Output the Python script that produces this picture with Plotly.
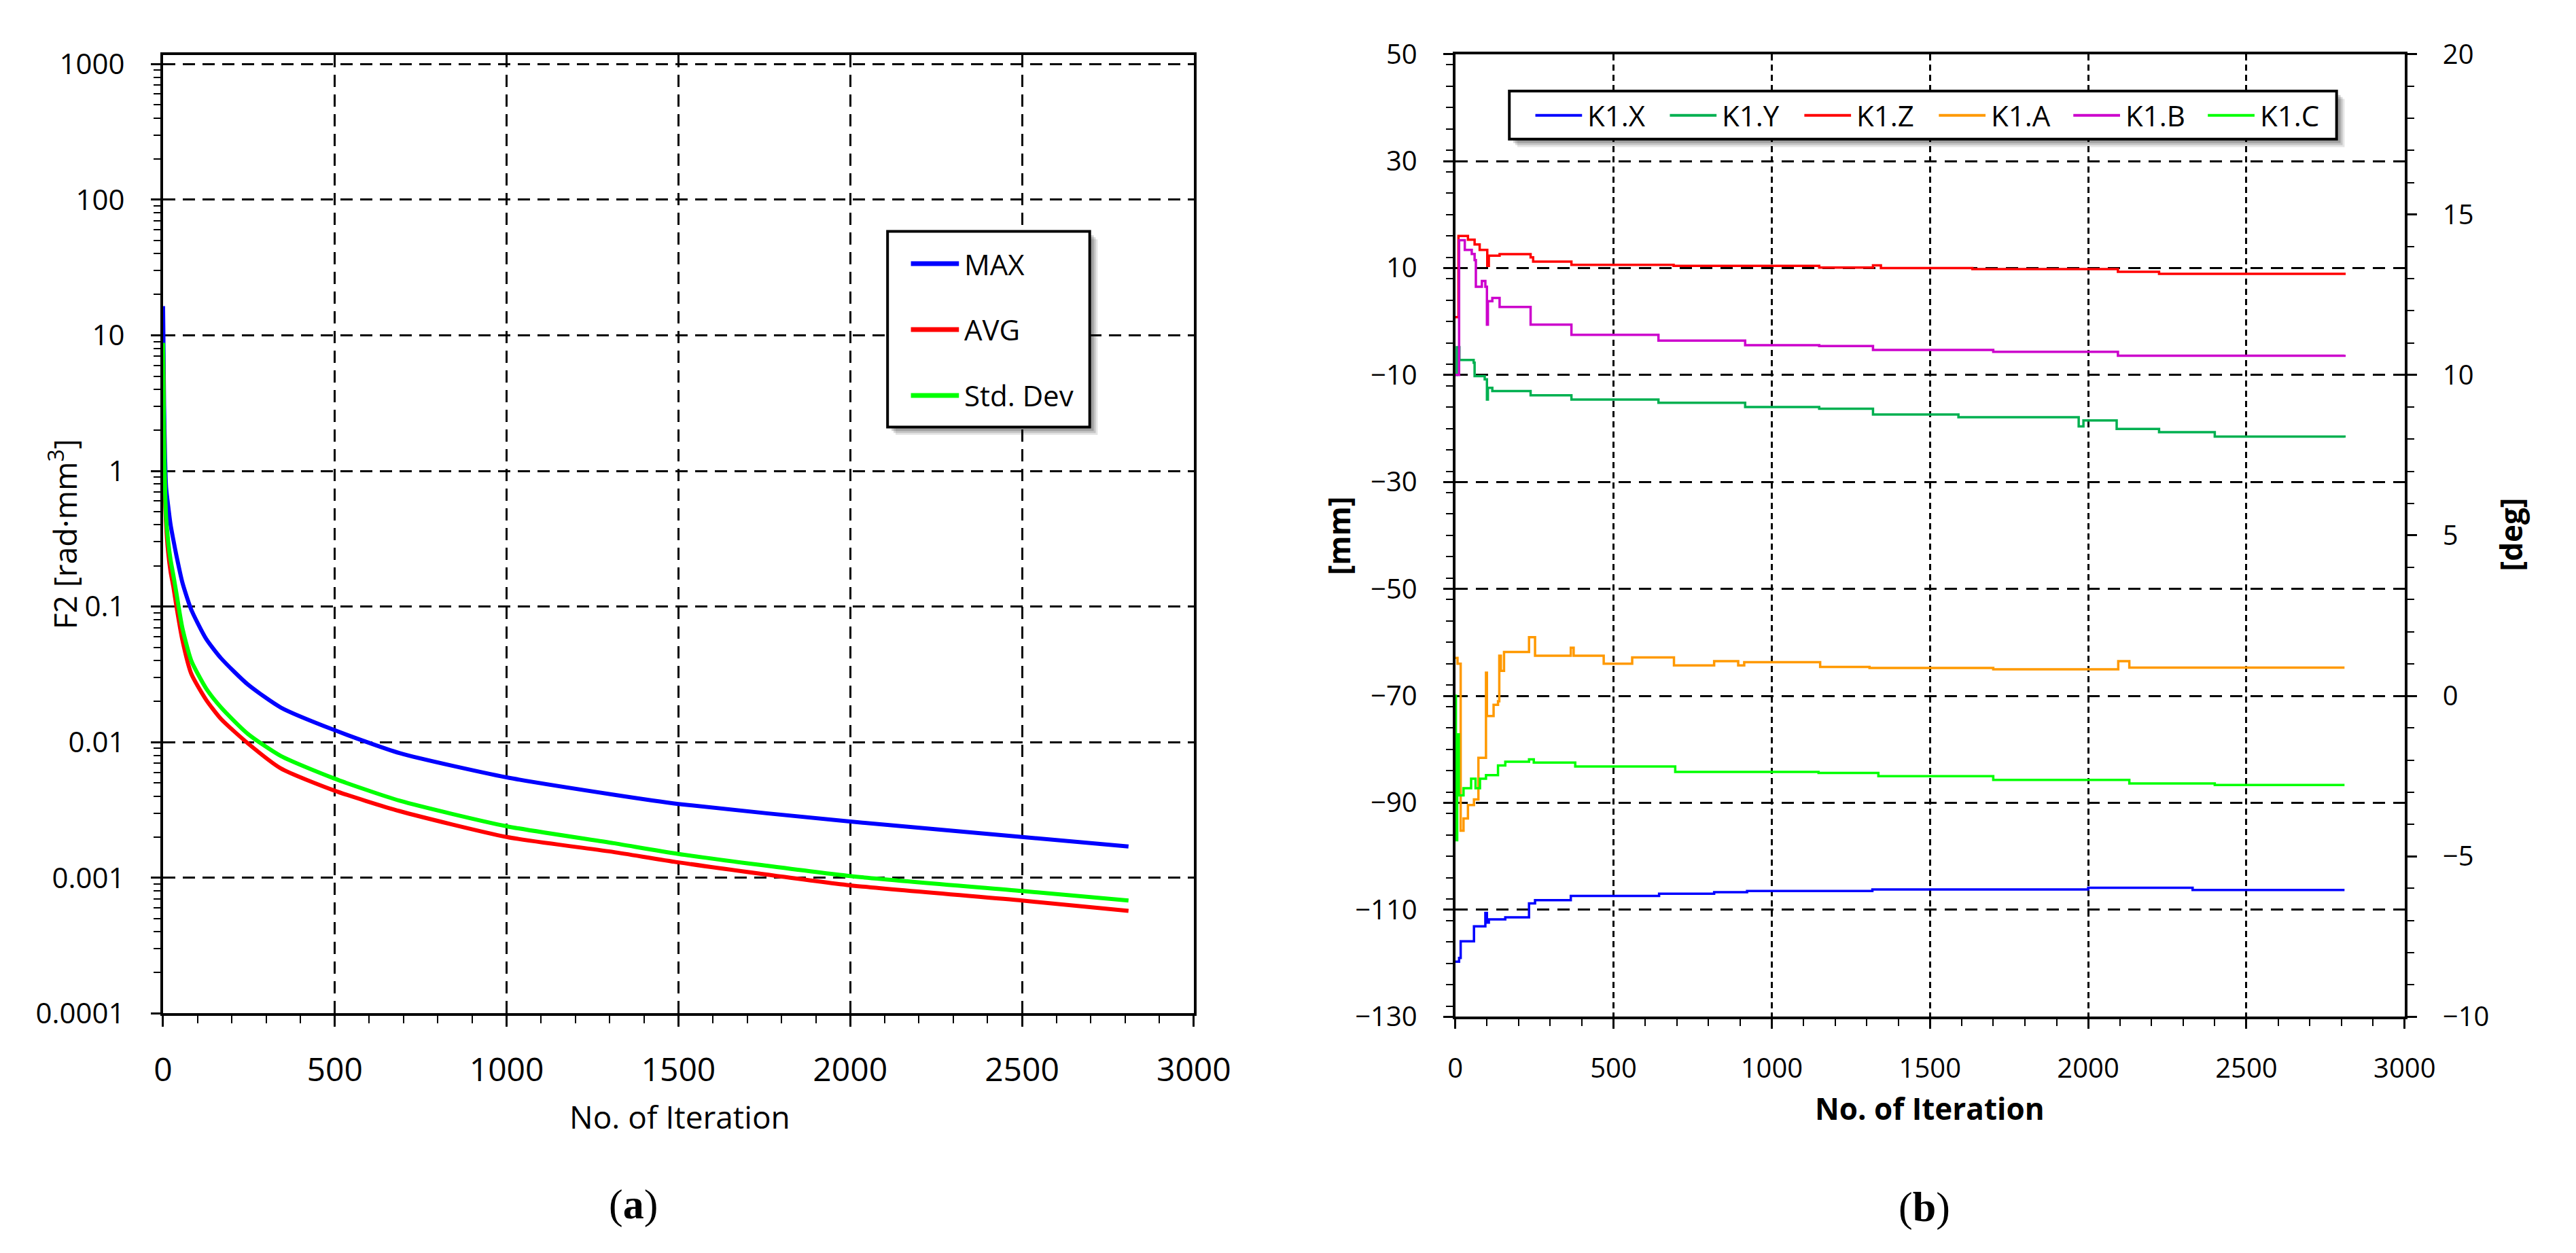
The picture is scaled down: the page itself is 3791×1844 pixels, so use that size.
import plotly.graph_objects as go

# ---- (a) F2 convergence ----
iter_a = [0, 1, 3, 6, 9, 15, 22, 30, 39, 56, 82, 125, 169, 247, 343, 498, 689,
          1000, 1311, 1500, 2000, 2500, 2810]
f2_max = [16.4, 10, 3.0, 1.2, 0.75, 0.55, 0.40, 0.31, 0.237, 0.151, 0.095, 0.058,
          0.0415, 0.0266, 0.018, 0.0123, 0.0083, 0.0055, 0.0041, 0.0035, 0.0026,
          0.0020, 0.0017]
f2_avg = [8.0, 5.0, 1.5, 0.6, 0.4, 0.25, 0.18, 0.14, 0.10, 0.057, 0.032, 0.0206,
          0.0148, 0.0098, 0.0064, 0.0044, 0.0031, 0.0020, 0.00155, 0.0013, 0.00088,
          0.00068, 0.00057]
f2_std = [8.8, 5.0, 1.6, 0.7, 0.45, 0.30, 0.22, 0.17, 0.125, 0.070, 0.040, 0.025,
          0.018, 0.0115, 0.0079, 0.0054, 0.0037, 0.0024, 0.0018, 0.0015, 0.00103,
          0.00080, 0.00068]
names_a = ["MAX", "AVG", "Std. Dev"]
colors_a = ["#0000FF", "#FF0000", "#00FF00"]
log_tickvals = [0.0001, 0.001, 0.01, 0.1, 1, 10, 100, 1000]
log_ticktext = ["0.0001", "0.001", "0.01", "0.1", "1", "10", "100", "1000"]

# ---- (b) K1 parameters, step curves ----
kx_it = [0, 12, 17, 59, 95, 100, 106, 158, 233, 252, 365, 644, 818, 922, 1318,
         2000, 2330, 2810]
kx_mm = [-119.7, -119.0, -115.9, -113.1, -110.6, -112.4, -111.8, -111.4, -108.8,
         -108.2, -107.4, -107.0, -106.7, -106.5, -106.2, -105.9, -106.3, -106.3]

ky_it = [0, 5, 13, 58, 61, 93, 100, 103, 117, 238, 367, 642, 916, 1150, 1320,
         1590, 1970, 1985, 2090, 2224, 2400, 2810]
ky_mm = [-10.0, -4.8, -7.2, -7.7, -10.2, -10.8, -14.6, -12.4, -13.0, -13.8, -14.6,
         -15.2, -16.0, -16.3, -17.4, -17.9, -19.6, -18.5, -20.1, -20.7, -21.5, -21.7]

kz_it = [0, 10, 40, 61, 77, 101, 106, 140, 238, 246, 367, 690, 1150, 1320, 1345,
         1634, 2094, 2224, 2810]
kz_mm = [0.8, 16.0, 15.3, 14.4, 13.4, 10.4, 12.3, 12.6, 12.0, 11.2, 10.6, 10.4,
         10.1, 10.5, 10.0, 9.8, 9.3, 8.9, 8.7]

ka_it = [0, 7, 17, 26, 40, 59, 73, 97, 100, 121, 135, 139, 144, 154, 233, 252, 365,
         374, 469, 559, 691, 818, 894, 913, 1153, 1309, 1700, 2095, 2130, 2810]
ka_deg = [1.18, 1.0, -4.2, -3.82, -3.4, -3.23, -1.93, 0.72, -0.63, -0.28, -0.17,
          1.25, 0.78, 1.37, 1.83, 1.25, 1.5, 1.25, 1.0, 1.2, 0.95, 1.08, 0.95, 1.05,
          0.9, 0.87, 0.83, 1.08, 0.88, 0.88]

kb_it = [0, 12, 30, 52, 61, 65, 84, 95, 100, 103, 117, 140, 238, 367, 642, 916,
         1150, 1320, 1700, 2094, 2810]
kb_deg = [10.0, 14.2, 13.9, 13.77, 13.58, 12.75, 12.93, 12.75, 11.57, 12.3, 12.4,
          12.12, 11.57, 11.25, 11.07, 10.93, 10.9, 10.78, 10.72, 10.6, 10.63]

kc_it = [0, 2, 6, 11, 26, 50, 64, 78, 97, 135, 158, 233, 248, 379, 695, 1148,
         1337, 1700, 2130, 2400, 2810]
kc_deg = [0.0, -4.5, -1.2, -3.1, -2.88, -2.58, -2.88, -2.58, -2.47, -2.17, -2.05,
          -1.98, -2.08, -2.2, -2.37, -2.4, -2.5, -2.62, -2.73, -2.78, -2.78]

names_b = ["K1.X", "K1.Y", "K1.Z", "K1.A", "K1.B", "K1.C"]
colors_b = ["#0000FF", "#00B050", "#FF0000", "#FF9900", "#CC00CC", "#00FF00"]

W, H = 3791, 1844
FONT = "Open Sans, Liberation Sans, sans-serif"


def px(x):
    return x / W


def py(y):
    return 1 - y / H


fig = go.Figure()

for vals, name, col in zip([f2_max, f2_avg, f2_std], names_a, colors_a):
    fig.add_trace(go.Scatter(x=iter_a, y=vals, name=name, mode="lines",
                             line=dict(color=col, width=6, shape="spline", smoothing=0.6),
                             xaxis="x", yaxis="y", showlegend=False))

series_b = [(kx_it, kx_mm, "y2"), (ky_it, ky_mm, "y2"), (kz_it, kz_mm, "y2"),
            (ka_it, ka_deg, "y3"), (kb_it, kb_deg, "y3"), (kc_it, kc_deg, "y3")]
for (xs, ys, ax), name, col in zip(series_b, names_b, colors_b):
    fig.add_trace(go.Scatter(x=xs, y=ys, name=name, mode="lines",
                             line=dict(color=col, width=3.5, shape="hv"),
                             xaxis="x2", yaxis=ax, showlegend=False))

axis_common = dict(showline=True, linecolor="black", linewidth=4, ticks="outside",
                   tickcolor="black", tickwidth=3, zeroline=False)
minor_log = [m * 10 ** k for k in range(-4, 3) for m in range(2, 10)]

fig.update_layout(
    width=W, height=H, autosize=False,
    margin=dict(l=0, r=0, t=0, b=0),
    paper_bgcolor="white", plot_bgcolor="white",
    font=dict(family=FONT, color="black"),
    xaxis=dict(domain=[px(222), px(1767)], anchor="y", range=[0, 3000], dtick=500,
               mirror=True, ticklen=16, showgrid=True, gridcolor="black", gridwidth=3,
               griddash="18px,11px", tickfont=dict(size=48), ticklabelstandoff=22,
               minor=dict(dtick=100, ticks="outside", ticklen=11, tickwidth=2,
                          tickcolor="black", showgrid=False),
               **axis_common),
    yaxis=dict(domain=[py(1500), py(45)], anchor="x", type="log", range=[-4, 3.068],
               tickmode="array", tickvals=log_tickvals, ticktext=log_ticktext,
               mirror=True, ticklen=14, showgrid=True, gridcolor="black", gridwidth=3,
               griddash="18px,11px", tickfont=dict(size=42), ticklabelstandoff=30,
               minor=dict(tickmode="array", tickvals=minor_log, ticks="outside",
                          ticklen=10, tickwidth=2, tickcolor="black", showgrid=False),
               **axis_common),
    xaxis2=dict(domain=[px(2159), px(3582)], anchor="y2", range=[0, 3000], dtick=500,
                mirror=True, ticklen=14, showgrid=True, gridcolor="black", gridwidth=3,
                griddash="9px,6px", tickfont=dict(size=40), ticklabelstandoff=24,
                minor=dict(dtick=100, ticks="outside", ticklen=10, tickwidth=2,
                           tickcolor="black", showgrid=False),
                **axis_common),
    yaxis2=dict(domain=[py(1505), py(44)], anchor="x2", range=[-130, 50], tick0=-130,
                dtick=20, ticklen=14, showgrid=True, gridcolor="black", gridwidth=3,
                griddash="18px,12px", tickfont=dict(size=40), ticklabelstandoff=30,
                minor=dict(dtick=4, ticks="outside", ticklen=10, tickwidth=2,
                           tickcolor="black", showgrid=False),
                **axis_common),
    yaxis3=dict(overlaying="y2", anchor="x2", side="right", range=[-10, 20], dtick=5,
                ticklen=14, showgrid=False, tickfont=dict(size=40), ticklabelstandoff=30,
                minor=dict(dtick=1, ticks="outside", ticklen=10, tickwidth=2,
                           tickcolor="black", showgrid=False),
                **axis_common),
)

shapes = []
annotations = []


def legend_frame(x0, y0, x1, y1):
    for off, op in [(12, 0.10), (9, 0.14), (6, 0.18)]:
        shapes.append(dict(type="rect", xref="paper", yref="paper",
                           x0=px(x0 + off), x1=px(x1 + off), y0=py(y1 + off), y1=py(y0 + off),
                           line=dict(width=0), fillcolor="rgba(0,0,0,%.2f)" % op))
    shapes.append(dict(type="rect", xref="paper", yref="paper",
                       x0=px(x0), x1=px(x1), y0=py(y1), y1=py(y0),
                       line=dict(color="black", width=4), fillcolor="white"))


def legend_item(x, y, name, col, width, length):
    shapes.append(dict(type="line", xref="paper", yref="paper",
                       x0=px(x), x1=px(x + length), y0=py(y), y1=py(y),
                       line=dict(color=col, width=width)))
    annotations.append(dict(xref="paper", yref="paper", x=px(x + length + 6), y=py(y),
                            text=name, showarrow=False, xanchor="left", yanchor="middle",
                            font=dict(size=42, family=FONT, color="black")))


# legend (a)
legend_frame(1308, 313, 1611, 610)
for i, (name, col) in enumerate(zip(names_a, colors_a)):
    legend_item(1343, 362 + 100 * i, name, col, 7, 72)

# legend (b)
legend_frame(2240, 100, 3480, 173)
for i, (name, col) in enumerate(zip(names_b, colors_b)):
    legend_item(2279 + 201.6 * i, 137, name, col, 4, 70)


def text(x, y, s, size, angle=0, family=FONT):
    annotations.append(dict(xref="paper", yref="paper", x=px(x), y=py(y), text=s,
                            showarrow=False, xanchor="center", yanchor="middle",
                            textangle=angle, font=dict(size=size, family=family,
                                                       color="black")))


text(72, 773, "F2 [rad·mm<sup>3</sup>]", 46, -90)
text(997, 1656, "No. of Iteration", 46)
text(2870, 1644, "<b>No. of Iteration</b>", 44)
text(1985, 775, "<b>[mm]</b>", 44, -90)
text(3741, 773, "<b>[deg]</b>", 44, -90)
text(927, 1790, "(<b>a</b>)", 62, 0, "Liberation Serif, DejaVu Serif, serif")
text(2862, 1794, "(<b>b</b>)", 62, 0, "Liberation Serif, DejaVu Serif, serif")

fig.update_layout(shapes=shapes, annotations=annotations)

fig.write_html("out.html")
